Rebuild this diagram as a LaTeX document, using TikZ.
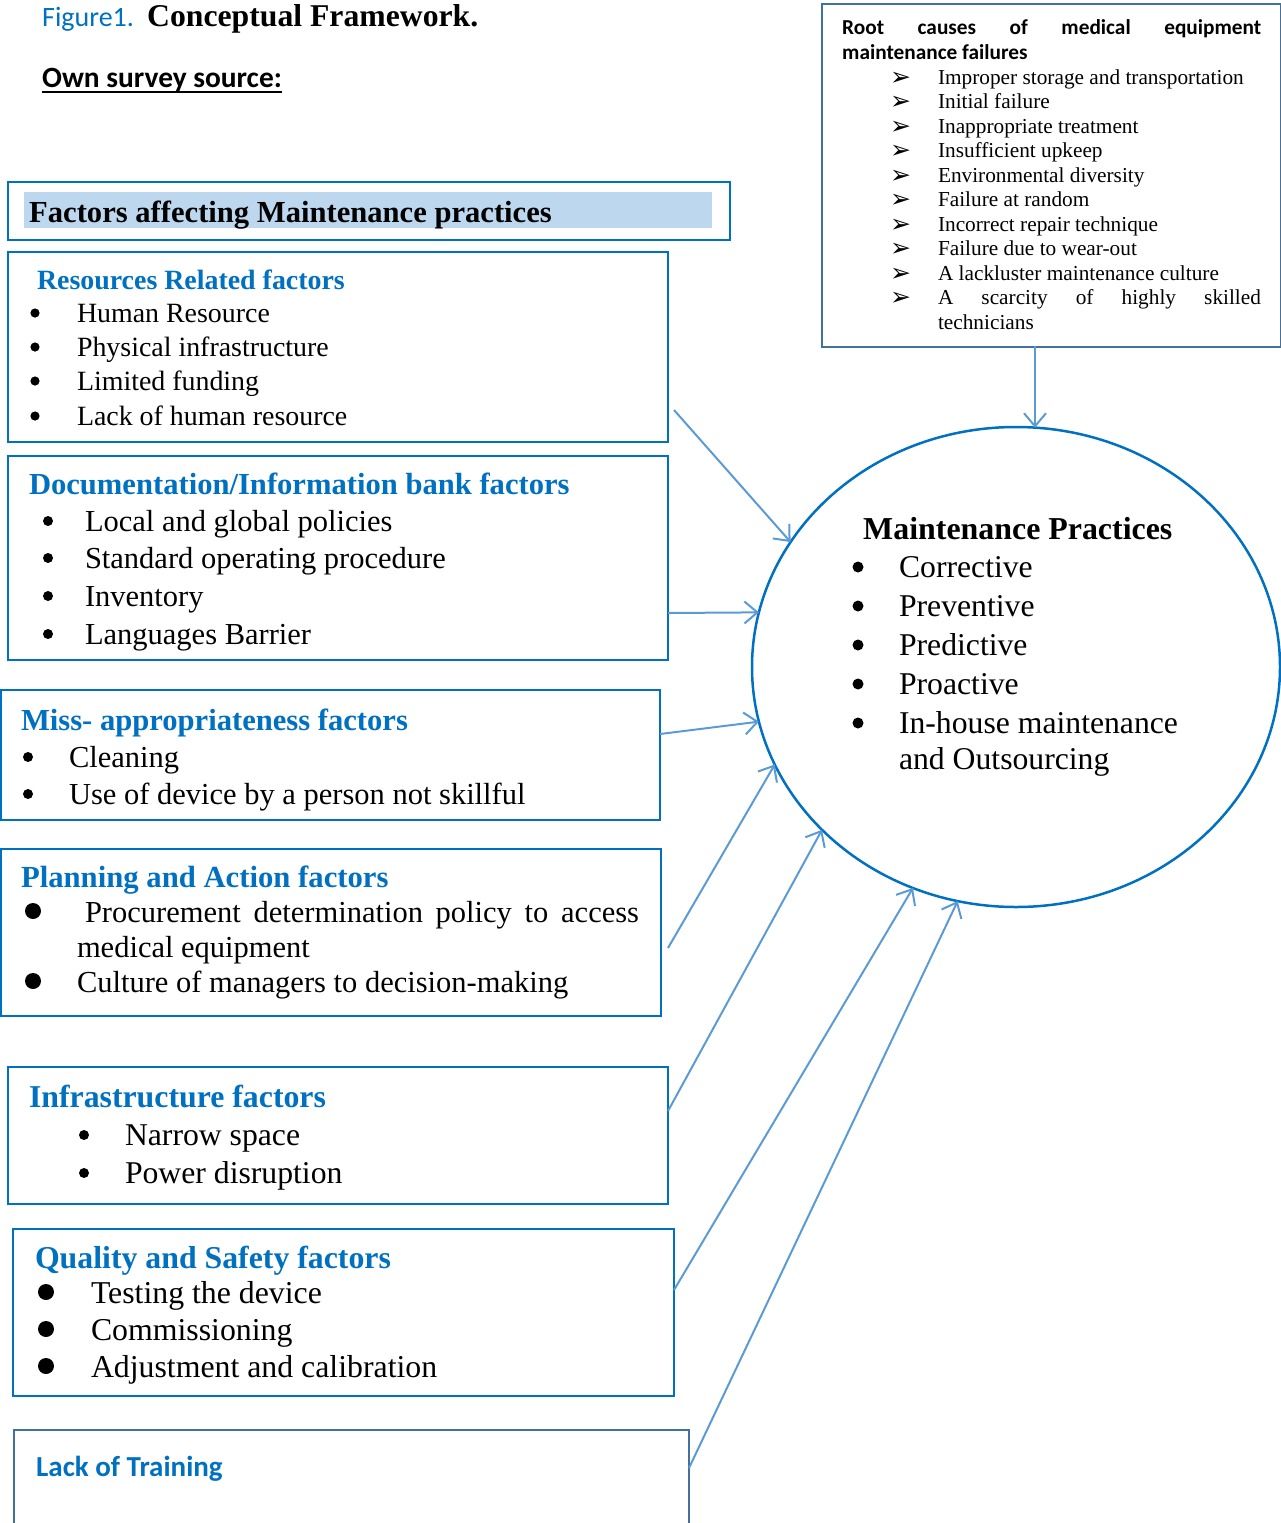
\documentclass[tikz,border=0pt]{standalone}
\usepackage{fontspec}
\setmainfont{Liberation Serif}
\newfontfamily\calib{Carlito}
\newfontfamily\djv{DejaVu Sans}
\usetikzlibrary{arrows.meta,shapes.geometric}
\definecolor{boxblue}{HTML}{0070C0}
\definecolor{arrblue}{HTML}{5B9BD5}
\definecolor{steel}{HTML}{41719C}
\definecolor{hdrfill}{HTML}{BDD7EE}
\begin{document}
\begin{tikzpicture}[x=1pt,y=-1pt,
  box/.style={draw=boxblue, line width=2.5pt, anchor=north west, inner sep=0pt, outer sep=0pt},
  itm/.style={anchor=base west, inner sep=0pt, outer sep=0pt, font=\fontsize{#1}{#1}\selectfont},
  hd/.style={anchor=base west, inner sep=0pt, outer sep=0pt, text=boxblue, font=\fontsize{#1}{#1}\selectfont\bfseries},
  conn/.style={draw=arrblue, line width=2pt, -{Straight Barb[length=13pt,width=22pt]}},
  arr/.style={anchor=base west, inner sep=0pt, font=\djv\fontsize{25}{25}\selectfont},
  dot/.style={fill=black}
]
\useasboundingbox (0,0) rectangle (1281,1523);

% ---- title lines
\node[anchor=base west, inner sep=0pt, text=boxblue, font=\calib\fontsize{28}{28}\selectfont] (fig) at (42,27) {Figure1.};
\node[anchor=base west, inner sep=0pt, font=\fontsize{31.7}{32}\selectfont\bfseries] (cf) at (147,27) {Conceptual Framework.};
\node[anchor=base west, inner sep=0pt, font=\calib\fontsize{29.4}{30}\selectfont\bfseries] (own) at (42,87) {Own survey source:};
\draw[line width=2.5pt] ([yshift=-5pt]own.base west) -- ([yshift=-5pt]own.base east);

% ---- root causes box
\node[draw=steel, line width=2pt, anchor=north west, inner sep=0pt, minimum width=459pt, minimum height=343pt] (root) at (821,3) {};
\node[anchor=base west, inner sep=0pt, font=\calib\fontsize{21.3}{22}\selectfont\bfseries] (rt1) at (842,34)
  {\makebox[419pt][s]{Root causes of medical equipment}};
\node[anchor=base west, inner sep=0pt, font=\calib\fontsize{21.3}{22}\selectfont\bfseries] (rt2) at (842,59) {maintenance failures};
\foreach \y/\t [count=\i] in {84/Improper storage and transportation, 108/Initial failure, 133/Inappropriate treatment,
  157/Insufficient upkeep, 182/Environmental diversity, 206/Failure at random, 231/Incorrect repair technique,
  255/Failure due to wear-out, 280/A lackluster maintenance culture}{
  \node[arr] (ra\i) at (890,\y+1) {➢};
  \node[itm=21.3] (rc\i) at (938,\y) {\t};
}
\node[arr] (ra10) at (890,305) {➢};
\node[itm=21.3] (rc10) at (938,304) {\makebox[323pt][s]{A scarcity of highly skilled}};
\node[itm=21.3] (rc11) at (938,329) {technicians};

% ---- header box
\node[box, minimum width=722pt, minimum height=58pt] (hdr) at (8,182) {};
\node[fill=hdrfill, anchor=north west, inner sep=0pt, minimum width=688pt, minimum height=36pt] (hdrf) at (24,192) {};
\node[anchor=base west, inner sep=0pt, font=\fontsize{30.6}{31}\selectfont\bfseries] (hdrt) at (29,222) {Factors affecting Maintenance practices};

% ---- Resources
\node[box, minimum width=660pt, minimum height=190pt] (res) at (8,252) {};
\node[hd=27.9] (resT) at (37,289) {Resources Related factors};
\foreach \y/\t [count=\i] in {322/Human Resource, 356/Physical infrastructure, 390/Limited funding, 425/Lack of human resource}{
  \fill[dot] (35,\y-9) circle[radius=4.6pt];
  \node[itm=27.9] (res\i) at (77,\y) {\t};
}

% ---- Documentation
\node[box, minimum width=660pt, minimum height=204pt] (doc) at (8,456) {};
\node[hd=30.6] (docT) at (29,494) {Documentation/Information bank factors};
\foreach \y/\t [count=\i] in {531/Local and global policies, 568/Standard operating procedure, 606/Inventory, 644/Languages Barrier}{
  \fill[dot] (48,\y-10) circle[radius=5pt];
  \node[itm=30.5] (doc\i) at (85,\y) {\t};
}

% ---- Miss-appropriateness
\node[box, minimum width=659pt, minimum height=130pt] (mis) at (1,690) {};
\node[hd=30.6] (misT) at (21,730) {Miss- appropriateness factors};
\foreach \y/\t [count=\i] in {767/Cleaning, 804/Use of device by a person not skillful}{
  \fill[dot] (28,\y-10) circle[radius=5pt];
  \node[itm=30.5] (mis\i) at (69,\y) {\t};
}

% ---- Planning
\node[box, minimum width=660pt, minimum height=167pt] (pla) at (1,849) {};
\node[hd=30.7] (plaT) at (21,887) {Planning and Action factors};
\fill[dot] (33,911) circle[radius=8pt];
\node[itm=30.5] (pla1) at (85,922) {\makebox[554pt][s]{Procurement determination policy to access}};
\node[itm=30.5] (pla2) at (77,957) {medical equipment};
\fill[dot] (33,981) circle[radius=8pt];
\node[itm=30.5] (pla3) at (77,992) {Culture of managers to decision-making};

% ---- Infrastructure
\node[box, minimum width=660pt, minimum height=137pt] (inf) at (8,1067) {};
\node[hd=31.8] (infT) at (29,1107) {Infrastructure factors};
\foreach \y/\t [count=\i] in {1145/Narrow space, 1183/Power disruption}{
  \fill[dot] (84,\y-10) circle[radius=5pt];
  \node[itm=31.7] (inf\i) at (125,\y) {\t};
}

% ---- Quality
\node[box, minimum width=661pt, minimum height=167pt] (qua) at (13,1229) {};
\node[hd=31.8] (quaT) at (35,1268) {Quality and Safety factors};
\foreach \y/\t [count=\i] in {1303/Testing the device, 1340/Commissioning, 1377/Adjustment and calibration}{
  \fill[dot] (46,\y-11) circle[radius=8pt];
  \node[itm=31.8] (qua\i) at (91,\y) {\t};
}

% ---- Lack of training (open at the bottom)
\node[anchor=north west, inner sep=0pt, outer sep=0pt, minimum width=675pt, minimum height=100pt] (lack) at (14,1430) {};
\draw[draw=steel, line width=2.5pt] (lack.south west) |- (lack.north east) -- (lack.south east);
\node[anchor=base west, inner sep=0pt, text=boxblue, font=\calib\fontsize{29}{29}\selectfont\bfseries] (lackT) at (36,1476) {Lack of Training};

% ---- Maintenance practices ellipse
\node[ellipse, draw=boxblue, line width=2.5pt, inner sep=0pt, outer sep=0pt, minimum width=528pt, minimum height=480pt] (mp) at (1016,667) {};
\node[anchor=base west, inner sep=0pt, font=\fontsize{31.9}{32}\selectfont\bfseries] (mpT) at (863,539) {Maintenance Practices};
\foreach \y/\t [count=\i] in {577/Corrective, 616/Preventive, 655/Predictive, 694/Proactive, 733/In-house maintenance}{
  \fill[dot] (858,\y-10) circle[radius=5.5pt];
  \node[itm=31.7] (mp\i) at (899,\y) {\t};
}
\node[itm=31.7] (mp6) at (899,769) {and Outsourcing};

% ---- connectors
\coordinate (s0) at (1035,346);
\coordinate (s1) at (674,410);
\coordinate (s2) at (668,613);
\coordinate (s3) at (660,734);
\coordinate (s4) at (668,948);
\coordinate (s5) at (668,1111);
\coordinate (s6) at (674,1290);
\coordinate (s7) at (689,1468);
\draw[conn] (s0) -- (s0 |- mp.85.5);
\draw[conn] (s1) -- (mp.151);
\draw[conn] (s2) -- (mp.168);
\draw[conn] (s3) -- (mp.192);
\draw[conn] (s4) -- (mp.202);
\draw[conn] (s5) -- (mp.220);
\draw[conn] (s6) -- (mp.245);
\draw[conn] (s7) -- (mp.256);
\end{tikzpicture}
\end{document}
